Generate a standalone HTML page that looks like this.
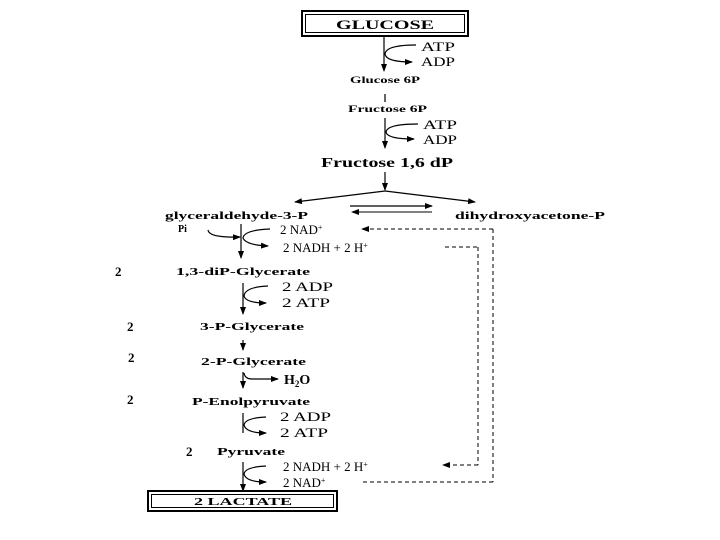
<!DOCTYPE html>
<html><head><meta charset="utf-8"><style>
html,body{margin:0;padding:0;background:#fff}
svg{display:block}
text{font-family:"Liberation Serif",serif;fill:#000}
.b{font-weight:bold}
</style></head><body>
<svg width="720" height="540" viewBox="0 0 720 540" xmlns="http://www.w3.org/2000/svg">
<defs>
<marker id="a" markerWidth="8" markerHeight="6" refX="7" refY="3" orient="auto" markerUnits="userSpaceOnUse"><path d="M0,0 L8,3 L0,6 Z" fill="#000"/></marker>
</defs>
<g stroke="#000" fill="none" stroke-width="1.2">
<rect x="302" y="11" width="166" height="25" stroke-width="2"/>
<rect x="305.5" y="14.5" width="159" height="18" stroke-width="1"/>
<rect x="148" y="491" width="189" height="20" stroke-width="2"/>
<rect x="151.5" y="494.5" width="182" height="13" stroke-width="1"/>

<line x1="384" y1="36" x2="384" y2="71" marker-end="url(#a)"/>
<path d="M416,45 Q386,45 385,54 Q386,62 412,62" marker-end="url(#a)"/>
<line x1="385" y1="94" x2="385" y2="102"/>
<line x1="385" y1="118" x2="385" y2="148" marker-end="url(#a)"/>
<path d="M418,124 Q387,124 386,132 Q387,139 414,139" marker-end="url(#a)"/>
<line x1="385" y1="172" x2="385" y2="190" marker-end="url(#a)"/>
<line x1="385" y1="191" x2="295" y2="202" marker-end="url(#a)"/>
<line x1="385" y1="191" x2="475" y2="202" marker-end="url(#a)"/>
<line x1="350" y1="206" x2="432" y2="206" marker-end="url(#a)"/>
<line x1="432" y1="212" x2="352" y2="212" marker-end="url(#a)" stroke-width="1"/>
<line x1="241" y1="224" x2="241" y2="258" marker-end="url(#a)"/>
<path d="M208,230 Q209,238 240,237" marker-end="url(#a)"/>
<path d="M270,229 Q244,230 243,238 Q246,245 268,246" marker-end="url(#a)"/>
<g stroke-dasharray="4,3" stroke-width="1">
<path d="M493,229 L362,229" marker-end="url(#a)"/>
<line x1="493" y1="229" x2="493" y2="482"/>
<line x1="493" y1="482" x2="360" y2="482"/>
<line x1="445" y1="247" x2="478" y2="247"/>
<line x1="478" y1="247" x2="478" y2="465"/>
<path d="M478,465 L443,465" marker-end="url(#a)"/>
</g>
<line x1="243" y1="283" x2="243" y2="314" marker-end="url(#a)"/>
<path d="M268,286 Q245,287 244,296 Q246,303 266,303" marker-end="url(#a)"/>
<line x1="243" y1="340" x2="243" y2="350" marker-end="url(#a)"/>
<line x1="243" y1="372" x2="243" y2="388" marker-end="url(#a)"/>
<path d="M244,373 Q245,379 252,379 L278,379" marker-end="url(#a)"/>
<line x1="243" y1="413" x2="243" y2="433"/>
<path d="M266,417 Q245,418 244,425 Q246,433 266,433" marker-end="url(#a)"/>
<line x1="243" y1="462" x2="243" y2="491" marker-end="url(#a)"/>
<path d="M266,466 Q245,467 244,474 Q246,482 266,482" marker-end="url(#a)"/>
</g>

<g class="b">
<text x="336" y="29" font-size="13" textLength="98" lengthAdjust="spacingAndGlyphs">GLUCOSE</text>
<text x="350" y="83" font-size="9" textLength="70" lengthAdjust="spacingAndGlyphs">Glucose 6P</text>
<text x="348" y="112" font-size="9" textLength="79" lengthAdjust="spacingAndGlyphs">Fructose 6P</text>
<text x="321" y="167" font-size="14" textLength="132" lengthAdjust="spacingAndGlyphs">Fructose 1,6 dP</text>
<text x="165" y="219" font-size="11" textLength="143" lengthAdjust="spacingAndGlyphs">glyceraldehyde-3-P</text>
<text x="455" y="219" font-size="11" textLength="150" lengthAdjust="spacingAndGlyphs">dihydroxyacetone-P</text>
<text x="178" y="232" font-size="10">Pi</text>
<text x="115" y="276" font-size="13">2</text>
<text x="176" y="275" font-size="10" textLength="134" lengthAdjust="spacingAndGlyphs">1,3-diP-Glycerate</text>
<text x="127" y="331" font-size="13">2</text>
<text x="200" y="330" font-size="10" textLength="104" lengthAdjust="spacingAndGlyphs">3-P-Glycerate</text>
<text x="128" y="362" font-size="13">2</text>
<text x="201" y="365" font-size="10" textLength="105" lengthAdjust="spacingAndGlyphs">2-P-Glycerate</text>
<text x="284" y="384" font-size="14">H<tspan font-size="9" dy="3">2</tspan><tspan dy="-3">O</tspan></text>
<text x="127" y="404" font-size="13">2</text>
<text x="192" y="405" font-size="10" textLength="118" lengthAdjust="spacingAndGlyphs">P-Enolpyruvate</text>
<text x="186" y="456" font-size="13">2</text>
<text x="217" y="455" font-size="10" textLength="68" lengthAdjust="spacingAndGlyphs">Pyruvate</text>
<text x="194" y="505" font-size="11" textLength="98" lengthAdjust="spacingAndGlyphs">2 LACTATE</text>
</g>
<g font-size="13">
<text x="421" y="51" textLength="34" lengthAdjust="spacingAndGlyphs">ATP</text>
<text x="421" y="66" textLength="34" lengthAdjust="spacingAndGlyphs">ADP</text>
<text x="423" y="129" textLength="34" lengthAdjust="spacingAndGlyphs">ATP</text>
<text x="423" y="144" textLength="34" lengthAdjust="spacingAndGlyphs">ADP</text>
<text x="280" y="234">2 NAD<tspan font-size="8" dy="-4">+</tspan></text>
<text x="283" y="252">2 NADH + 2 H<tspan font-size="8" dy="-4">+</tspan></text>
<text x="282" y="291" textLength="51" lengthAdjust="spacingAndGlyphs">2 ADP</text>
<text x="282" y="307" textLength="48" lengthAdjust="spacingAndGlyphs">2 ATP</text>
<text x="280" y="421" textLength="51" lengthAdjust="spacingAndGlyphs">2 ADP</text>
<text x="280" y="437" textLength="48" lengthAdjust="spacingAndGlyphs">2 ATP</text>
<text x="283" y="471">2 NADH + 2 H<tspan font-size="8" dy="-4">+</tspan></text>
<text x="283" y="487">2 NAD<tspan font-size="8" dy="-4">+</tspan></text>
</g>
</svg>
</body></html>
